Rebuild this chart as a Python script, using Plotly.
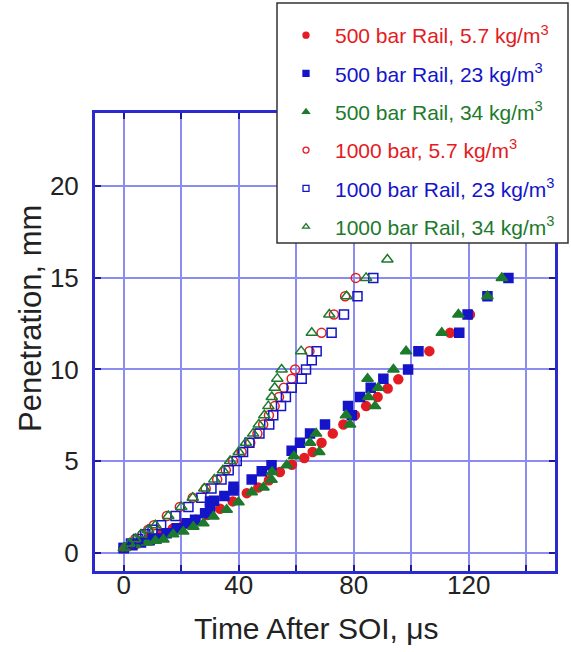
import plotly.graph_objects as go

# ---- data (time after SOI, microseconds ; penetration, mm) ----
r500_t = [0, 4, 8, 13, 17, 21, 25, 29, 33.5, 37.9, 42.8, 46.8, 50.5, 54.3, 58.5, 62.8, 65.7, 68.8, 72.7,
          76.4, 80.4, 84.3, 88.3, 91.8, 95.5, 106.3, 113.5, 120.4]
r500_y = [0.25, 0.45, 0.7, 1.06, 1.3, 1.55, 1.8, 2.05, 2.4, 2.8, 3.25, 3.56, 3.95, 4.4, 4.8, 5.17, 5.5, 6.0, 6.5,
          7.0, 7.5, 8.0, 8.5, 8.96, 9.46, 11, 12, 13]

b500_t = [0, 3, 6, 9, 11.4, 14.9, 18.4, 21.9, 24.8, 28.3, 30, 30, 31.4, 35, 38.2, 38.2, 44.5, 48, 51.4,
          58.4, 61.3, 64.8, 70, 79.3, 78.0, 82.2, 85.9, 90.3, 98.9, 102.5, 116.7, 119.6, 126.5, 133.8]
b500_y = [0.25, 0.4, 0.55, 0.68, 0.78, 1.06, 1.33, 1.6, 1.8, 2.15, 2.4, 2.8, 2.83, 3.1, 3.4, 3.6, 4.0, 4.44, 4.77,
          5.57, 6.0, 6.5, 7.0, 7.5, 8.0, 8.5, 9.0, 9.5, 10, 11, 12, 13, 14, 15]

g500_t = [0.4, 3.9, 8, 11, 13.8, 17.2, 20.7, 24.2, 27.7, 31.2, 35.8, 39.9, 44.5, 48.6, 51.4, 51.6, 56.7, 59.2,
          64.8, 66.9, 68, 77.3, 78.7, 85.1, 87.4, 84.8, 88.5, 93.8, 98.2, 110.6, 116.4, 126.5, 131.5]
g500_y = [0.25, 0.42, 0.55, 0.65, 0.72, 1.0, 1.15, 1.42, 1.6, 1.97, 2.34, 2.75, 3.3, 3.56, 3.98, 4.4, 4.77, 5.26,
          6.0, 6.5, 5.5, 7.5, 7.0, 8.5, 8.0, 9.5, 9.0, 10, 11, 12, 13, 14, 15]

r1000_t = [0.5, 2.5, 4, 6.5, 8.5, 10.5, 15, 19.5, 24, 28.5, 32.5, 35.5, 38, 41, 44, 46.5, 48.5, 50.5, 52.5, 54,
           55.7, 58.4, 59.6, 64.6, 68.8, 73.1, 77, 80.7]
r1000_y = [0.25, 0.5, 0.75, 1.0, 1.25, 1.5, 2.0, 2.5, 3.0, 3.5, 4.0, 4.5, 5.0, 5.5, 6.0, 6.5, 7.0, 7.5, 8.0, 8.5,
           9.0, 9.5, 10, 11, 12, 13, 14, 15]

b1000_t = [0, 2.5, 5, 7.5, 10, 13, 18, 22.5, 27, 30.5, 34, 36.5, 39.3, 41.5, 43.7, 47.2, 50.6, 52, 54.7, 56.4,
           58.4, 61.9, 63.4, 65.4, 67.1, 72.3, 76.6, 81.3, 86.8]
b1000_y = [0.25, 0.5, 0.75, 1.0, 1.25, 1.5, 2.0, 2.5, 3.0, 3.5, 4.0, 4.5, 5.0, 5.5, 6.0, 6.5, 7.0, 7.5, 8.0, 8.5,
           9.0, 9.5, 10, 10.5, 11, 12, 13, 14, 15]

g1000_t = [0, 2, 4, 6, 8.5, 11, 15.5, 20, 24, 28, 31.5, 34.5, 37, 40, 42.5, 45, 47, 48.9, 50.3, 51.5, 52.5,
           53.4, 54.9, 61.7, 65.4, 71.5, 77.5, 84.3, 91.7]
g1000_y = [0.25, 0.5, 0.75, 1.0, 1.25, 1.5, 2.0, 2.5, 3.0, 3.5, 4.0, 4.5, 5.0, 5.5, 6.0, 6.5, 7.0, 7.5, 8.0, 8.5,
           9.0, 9.5, 10, 11, 12, 13, 14, 15, 16]

x_tickvals = [0, 20, 40, 60, 80, 100, 120, 140]
x_ticktext = ["0", "", "40", "", "80", "", "120", ""]
y_tickvals = [0, 5, 10, 15, 20]

x_title = "Time After SOI, \u03bcs"
y_title = "Penetration, mm"

RED = "#e31b23"
BLUE = "#1414c8"
GREEN = "#1c7a2c"

series = [
    ("500 bar Rail, 5.7 kg/m<sup>3</sup>", r500_t, r500_y, RED, "circle", 9),
    ("500 bar Rail, 23 kg/m<sup>3</sup>", b500_t, b500_y, BLUE, "square", 9),
    ("500 bar Rail, 34 kg/m<sup>3</sup>", g500_t, g500_y, GREEN, "triangle-up", 10),
    ("1000 bar, 5.7 kg/m<sup>3</sup>", r1000_t, r1000_y, RED, "circle-open", 9),
    ("1000 bar Rail, 23 kg/m<sup>3</sup>", b1000_t, b1000_y, BLUE, "square-open", 9),
    ("1000 bar Rail, 34 kg/m<sup>3</sup>", g1000_t, g1000_y, GREEN, "triangle-up-open", 10),
]

FONT = "Liberation Sans, Arial, sans-serif"
TXT = "#222222"

fig = go.Figure()
# data traces
for i, (name, t, y, col, sym, sz) in enumerate(series):
    fig.add_trace(go.Scatter(
        x=t, y=y, mode="markers", name=name, showlegend=False,
        marker=dict(color=col, symbol=sym, size=sz, line=dict(color=col, width=1.5)),
    ))
# legend-only entries (smaller symbols, coloured text)
for i, (name, t, y, col, sym, sz) in enumerate(series):
    fig.add_trace(go.Scatter(
        x=[None], y=[None], mode="markers", legendgroup=f"g{i}",
        name=f'<span style="color:{col}">{name}</span>',
        marker=dict(color=col, symbol=sym, size=6, line=dict(color=col, width=1.3)),
    ))

# legend box (white panel over the plot)
fig.add_shape(type="rect", xref="paper", yref="paper", layer="above",
              x0=(277 - 95) / 460, x1=(568 - 95) / 460,
              y0=1 + (113 - 243) / 458, y1=1 + (113 - 3) / 458,
              fillcolor="white", line=dict(color="#333333", width=1.5))

fig.add_annotation(text=y_title, xref="paper", yref="paper", x=(30 - 95) / 460, y=(571 - 319) / 458,
                   textangle=-90, showarrow=False, xanchor="center", yanchor="middle",
                   font=dict(family=FONT, size=31, color=TXT))
fig.add_annotation(text=x_title, xref="paper", yref="paper", x=(316 - 95) / 460, y=(571 - 628) / 458,
                   showarrow=False, xanchor="center", yanchor="middle",
                   font=dict(family=FONT, size=30, color=TXT))

axis_common = dict(
    showgrid=True, gridcolor="#8c8cf0", gridwidth=2, zeroline=False,
    showline=True, linecolor="#2a2ad0", linewidth=3, mirror="ticks",
    ticks="inside", ticklen=6, tickwidth=2, tickcolor="#1a1a9a",
    tickfont=dict(family=FONT, size=26, color=TXT),
)

fig.update_layout(
    width=571, height=652,
    margin=dict(l=95, r=16, t=113, b=81, autoexpand=False),
    paper_bgcolor="white", plot_bgcolor="white",
    font=dict(family=FONT, color=TXT),
    showlegend=True,
    legend=dict(
        x=(277 - 95) / 460, y=1 + (113 - 15) / 458, xanchor="left", yanchor="top",
        bgcolor="rgba(0,0,0,0)", borderwidth=0,
        font=dict(family=FONT, size=21),
        tracegroupgap=8, itemwidth=48, itemsizing="trace",
    ),
    xaxis=dict(range=[-10, 150], tickvals=x_tickvals, ticktext=x_ticktext,
               ticklabelstandoff=-11, **axis_common),
    yaxis=dict(range=[-1, 24], tickvals=y_tickvals, ticklabelstandoff=8, **axis_common),
)

fig.write_html("out.html")
